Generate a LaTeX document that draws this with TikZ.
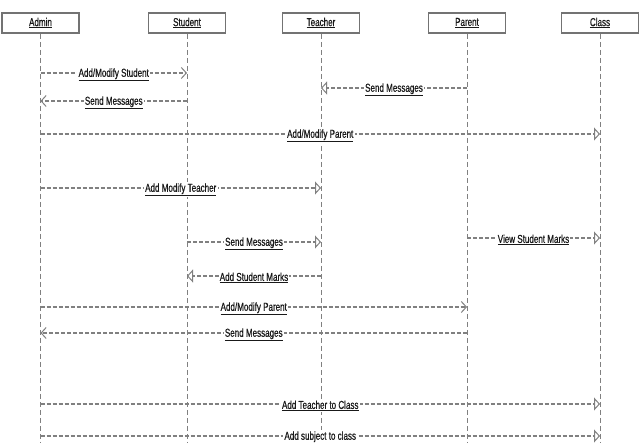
\documentclass[tikz,border=0pt]{standalone}
\usepackage{fontspec}
\setmainfont{Liberation Sans}[FakeStretch=0.7,FakeBold=0.6]
\usetikzlibrary{arrows.meta}
\tikzset{
  hdr/.style={draw=black!55, line width=1.6pt, fill=white, minimum width=77pt, minimum height=20pt, inner sep=0pt, text=black!90, font=\fontsize{11.5}{13}\selectfont},
  life/.style={draw=black!50, line width=0.7pt, dash pattern=on 5pt off 3pt},
  msg/.style={draw=black!50, line width=1.3pt, dash pattern=on 4pt off 2pt},
  barb/.style={-{Straight Barb[length=5pt,width=11pt,line width=1pt]}},
  tri/.style={-{Triangle[open,length=6pt,width=13pt,line width=1pt]}},
  lbl/.style={fill=white, inner sep=1.2pt, yshift=-1.8pt, text=black!90, font=\fontsize{11.5}{13}\selectfont}
}
\newcommand{\ul}[1]{\underline{#1}}
\begin{document}
\begin{tikzpicture}[x=1pt,y=-1pt]
\useasboundingbox (0,0) rectangle (640,443);
% headers
\node[hdr] (admin) at (40.5,23) {\ul{Admin}};
\node[hdr] (student) at (187,23) {\ul{Student}};
\node[hdr] (teacher) at (321,23) {\ul{Teacher}};
\node[hdr] (parent) at (467,23) {\ul{Parent}};
\node[hdr] (class) at (600,23) {\ul{Class}};
% lifeline ends
\coordinate (adminE) at (40.5,443);
\coordinate (studentE) at (187,443);
\coordinate (teacherE) at (321,443);
\coordinate (parentE) at (467,443);
\coordinate (classE) at (600,443);
\draw[life] (admin.south) -- (adminE);
\draw[life] (student.south) -- (studentE);
\draw[life] (teacher.south) -- (teacherE);
\draw[life] (parent.south) -- (parentE);
\draw[life] (class.south) -- (classE);
% messages
\draw[msg,barb] (admin.south |- 0,73) -- node[lbl]{\ul{Add/Modify Student}} (student.south |- 0,73);
\draw[msg,tri] (parent.south |- 0,88) -- node[lbl]{\ul{Send Messages}} (teacher.south |- 0,88);
\draw[msg,barb] (student.south |- 0,101) -- node[lbl]{\ul{Send Messages}} (admin.south |- 0,101);
\draw[msg,tri] (admin.south |- 0,134) -- node[lbl]{\ul{Add/Modify Parent}} (class.south |- 0,134);
\draw[msg,tri] (admin.south |- 0,188) -- node[lbl]{\ul{Add Modify Teacher}} (teacher.south |- 0,188);
\draw[msg,tri] (student.south |- 0,242) -- node[lbl]{\ul{Send Messages}} (teacher.south |- 0,242);
\draw[msg,tri] (parent.south |- 0,238) -- node[lbl]{\ul{View Student Marks}} (class.south |- 0,238);
\draw[msg,tri] (teacher.south |- 0,276) -- node[lbl]{\ul{Add Student Marks}} (student.south |- 0,276);
\draw[msg,barb] (admin.south |- 0,307) -- node[lbl]{\ul{Add/Modify Parent}} (parent.south |- 0,307);
\draw[msg,barb] (parent.south |- 0,333) -- node[lbl]{\ul{Send Messages}} (admin.south |- 0,333);
\draw[msg,tri] (admin.south |- 0,404) -- node[lbl]{\ul{Add Teacher to Class}} (class.south |- 0,404);
\draw[msg,tri] (admin.south |- 0,436) -- node[lbl]{\ul{Add subject to class}} (class.south |- 0,436);
\end{tikzpicture}
\end{document}
